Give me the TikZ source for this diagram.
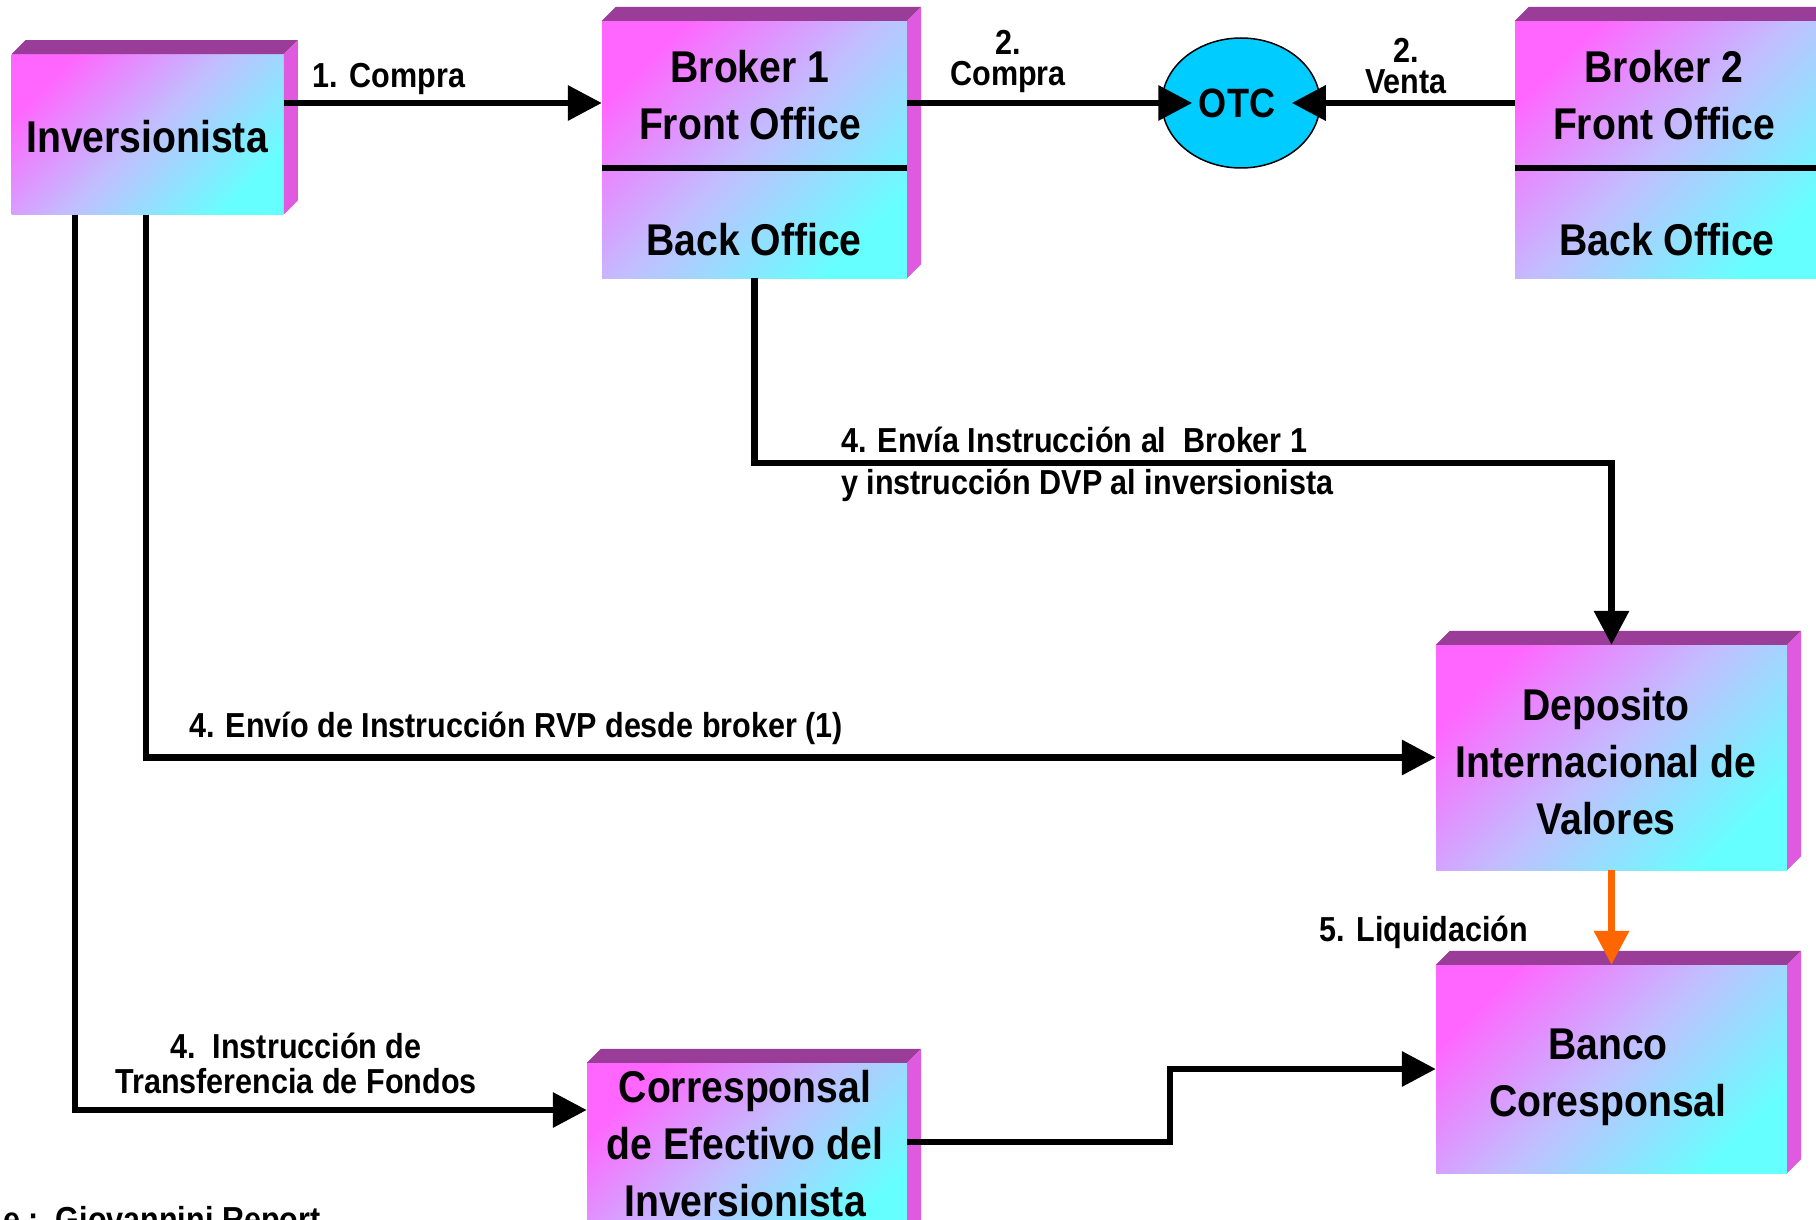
\documentclass[tikz,border=0pt]{standalone}
\usepackage{fontspec}
\newfontfamily\dfont{Liberation Sans Bold}[FakeStretch=0.88]
\usetikzlibrary{arrows.meta,shapes.geometric,calc}

\definecolor{faceA}{RGB}{255,102,255}
\definecolor{faceB}{RGB}{192,192,255}
\definecolor{faceC}{RGB}{102,255,255}
\definecolor{bevelTop}{RGB}{153,61,153}
\definecolor{bevelSide}{RGB}{224,90,224}
\definecolor{otcBlue}{RGB}{0,204,255}
\definecolor{liqOrange}{RGB}{255,102,0}

\tikzset{
  face/.style={rectangle, inner sep=0pt, top color=faceA, bottom color=faceC,
    middle color=faceB, shading angle=45},
  boxtext/.style={font=\dfont\fontsize{44.5}{57}\selectfont, align=center, inner sep=0pt},
  lbl/.style={font=\dfont\fontsize{34.7}{35}\selectfont, align=center, inner sep=0pt},
  lbltight/.style={font=\dfont\fontsize{34.7}{31}\selectfont, align=center, inner sep=0pt},
  conn/.style={line width=6.5pt, -{Triangle[length=34pt,width=34pt]}},
}

\begin{document}
\begin{tikzpicture}[x=1pt,y=-1pt]
\useasboundingbox (0,0) rectangle (1816,1220);
\clip (0,0) rectangle (1816,1220);
\fill[white] (0,0) rectangle (1816,1220);

% front faces
\node[face, minimum width=272pt, minimum height=160pt] (inv) at (147.7,134.3) {};
\node[face, minimum width=305pt, minimum height=257pt] (b1) at (754.5,149.5) {};
\node[face, minimum width=305pt, minimum height=257pt] (b2) at (1667.5,149.5) {};
\node[face, minimum width=351pt, minimum height=225pt] (dep) at (1611.5,757.5) {};
\node[face, minimum width=351pt, minimum height=208pt] (banco) at (1611.5,1069) {};
\node[face, minimum width=320pt, minimum height=180pt] (corr) at (747,1153) {};

% bevelled top and right faces
\foreach \n in {inv,b1,b2,dep,banco,corr}{
  \fill[bevelTop] (\n.north west) -- ++(14,-14) -- ($(\n.north east)+(14,-14)$)
    -- (\n.north east) -- cycle;
  \fill[bevelSide] (\n.north east) -- ++(14,-14) -- ($(\n.south east)+(14,-14)$)
    -- (\n.south east) -- cycle;
}

% front / back office dividers
\coordinate (div) at (0,168);
\draw[line width=6.5pt] (b1.west |- div) -- (b1.east |- div);
\draw[line width=6.5pt] (b2.west |- div) -- (b2.east |- div);

% box texts
\node[boxtext] (invt) at (147,137) {Inversionista};
\node[boxtext] (b1t) at (750,95) {Broker 1\\Front Office};
\node[boxtext] (b1k) at (754,240) {Back Office};
\node[boxtext] (b2t) at (1664,95) {Broker 2\\Front Office};
\node[boxtext] (b2k) at (1667,240) {Back Office};
\node[boxtext] (dept) at (1606,762) {Deposito\\Internacional de\\Valores};
\node[boxtext] (bancot) at (1608,1077) {Banco\\Coresponsal};
\node[boxtext] (corrt) at (745,1144) {Corresponsal\\de Efectivo del\\Inversionista};

% OTC market
\node[ellipse, draw=black, line width=1.5pt, fill=otcBlue, minimum width=158pt,
  minimum height=130pt, inner sep=0pt] (otc) at (1241,103) {};
\node[font=\dfont\fontsize{41}{45}\selectfont, inner sep=0pt] (otct) at (1237,103) {OTC};

% helper coordinates
\coordinate (r1) at (0,103);
\coordinate (r4) at (0,463);
\coordinate (r6) at (0,1110);
\coordinate (r7) at (0,1142);
\coordinate (v1) at (75,0);
\coordinate (v2) at (146,0);
\coordinate (xm) at (1170,0);

% connectors
\draw[conn] (inv.east |- r1) -- (b1.west |- r1);
\draw[conn] (b1.east |- r1) -- ([xshift=31pt]otc.west);
\draw[conn] (b2.west |- r1) -- ([xshift=-29pt]otc.east);
\draw[conn] (b1.south) -- (b1.south |- r4) -| (dep.north);
\draw[conn] (inv.south -| v2) |- (dep.west);
\draw[conn] (inv.south -| v1) |- (corr.west |- r6);
\draw[conn] (corr.east |- r7) -- (xm |- r7) -- (xm |- banco.west) -- (banco.west);
\draw[conn, liqOrange] (dep.south) -- (banco.north);

% connector labels
\node[lbl] (l1) at (389,79) {1. Compra};
\node[lbltight] (l2c) at (1008,61) {2.\\Compra};
\node[lbltight] (l2v) at (1406,66) {2.\\Venta};
\node[lbl, anchor=west] (l4a) at (841,440) {4. Envía Instrucción al\ \ Broker 1};
\node[lbl, anchor=west] (l4b) at (841,485) {y instrucción DVP al inversionista};
\node[lbl] (l4c) at (516,728) {4. Envío de Instrucción RVP desde broker (1)};
\node[lbl] (l4d) at (296,1063) {4.\ \ Instrucción de\\Transferencia de Fondos};
\node[lbl] (l5) at (1424,932) {5. Liquidación};

% source line
\node[lbl, anchor=base west] (src) at (3,1231) {e :\ \ Giovannini Report};
\end{tikzpicture}
\end{document}
